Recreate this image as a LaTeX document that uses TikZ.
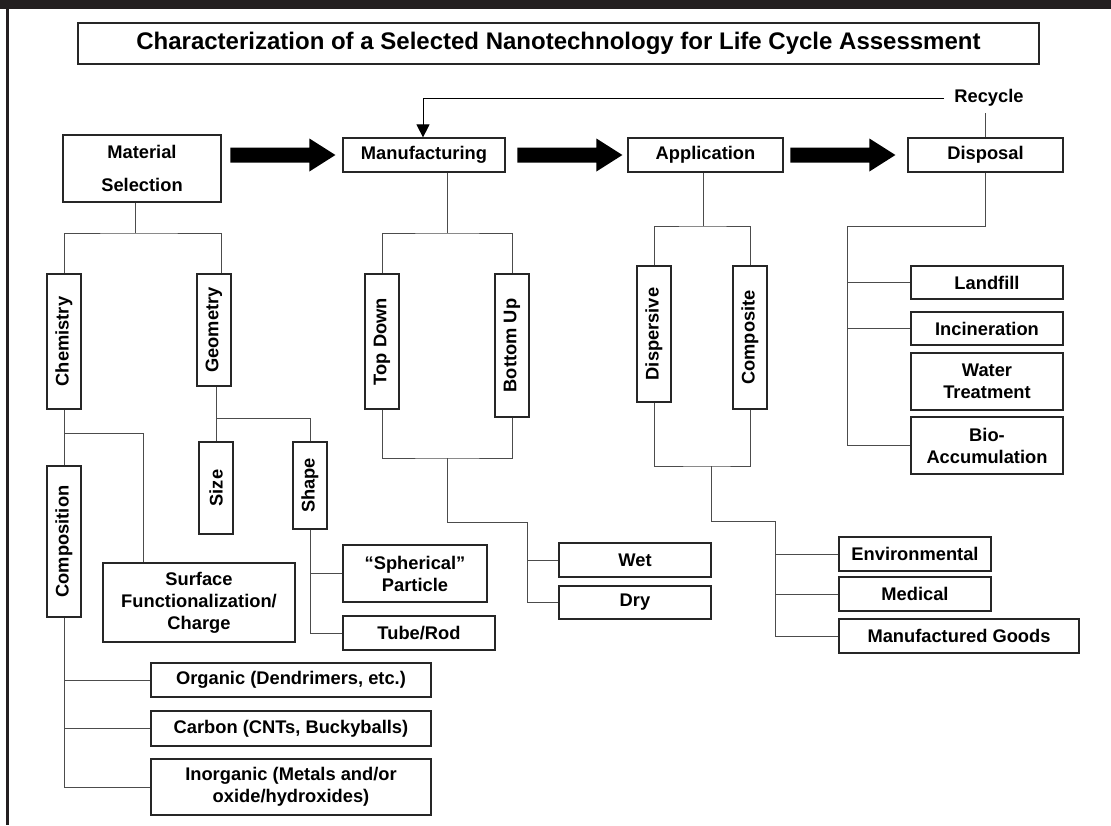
\documentclass[tikz,border=0pt]{standalone}
\usepackage{fontspec}
\setmainfont{Liberation Sans}
\usetikzlibrary{arrows.meta,calc}
\definecolor{frame}{HTML}{231F20}
\begin{document}
\begin{tikzpicture}[x=1pt,y=-1pt,
  box/.style={draw=black!85, line width=1.2pt, fill=white, inner sep=0pt, align=center,
    font=\fontsize{18.3}{22}\selectfont\bfseries},
  sz/.style 2 args={minimum width=#1pt, minimum height=#2pt},
  conn/.style={draw=black!70, line width=1pt},
  pics/fatarrow/.style={code={\fill[black] (0,0) -- (-26,-16.5) -- (-26,-7.5) -- (-105,-7.5) -- (-105,7.5) -- (-26,7.5) -- (-26,16.5) -- cycle;}}
]
\useasboundingbox (0,0) rectangle (1111,825);
\fill[white] (0,0) rectangle (1111,825);
% frame
\fill[frame] (0,0) rectangle (1111,8.5);
\fill[frame] (6,0) rectangle (9,825);

% title
\node[box, sz={961}{41}, font=\fontsize{24}{28}\selectfont\bfseries] (title) at (558.5,43.5)
  {Characterization of a Selected Nanotechnology for Life Cycle Assessment};

% main stages
\node[box, sz={158}{67}] (mat) at (142,168.5) {Material\\[11pt]Selection};
\node[box, sz={162}{34}] (manu) at (424,155) {Manufacturing};
\node[box, sz={155}{34}] (appl) at (705.5,155) {Application};
\node[box, sz={155}{34}] (disp) at (985.5,155) {Disposal};
\node[inner sep=0pt, font=\fontsize{18.3}{22}\selectfont\bfseries] (rec) at (989,98) {Recycle};

% big arrows
\pic at ([xshift=-7pt]manu.west) {fatarrow};
\pic at ([xshift=-5pt]appl.west) {fatarrow};
\pic at ([xshift=-12pt]disp.west) {fatarrow};

% recycle loop
\draw[black, line width=1pt, -{Triangle[length=13pt,width=13pt]}] ([xshift=-10pt]rec.west) -| ([xshift=-1pt]manu.north);
\draw[conn] (disp.north) -- ++(0,-24);

% material selection subtree
\node[box, sz={34}{135}] (chem) at (64,341.5) {\rotatebox{90}{Chemistry}};
\node[box, sz={34}{112}] (geom) at (214,330) {\rotatebox{90}{Geometry}};
\node[box, sz={34}{92}] (size) at (216,488) {\rotatebox{90}{Size}};
\node[box, sz={34}{87}] (shape) at (310,485.5) {\rotatebox{90}{Shape}};
\node[box, sz={34}{151}] (comp) at (64,541.5) {\rotatebox{90}{Composition}};
\node[box, sz={192}{79}] (surf) at (199,602.5) {Surface\\Functionalization/\\Charge};
\node[box, sz={144}{57}] (sph) at (415,573.5) {“Spherical”\\Particle};
\node[box, sz={152}{34}] (tube) at (419,633) {Tube/Rod};
\node[box, sz={280}{34}] (org) at (291,680) {Organic (Dendrimers, etc.)};
\node[box, sz={280}{35}] (carb) at (291,728.5) {Carbon (CNTs, Buckyballs)};
\node[box, sz={280}{56}] (inorg) at (291,787) {Inorganic (Metals and/or\\oxide/hydroxides)};

\coordinate (mj) at (135,233);
\coordinate (gj) at (216,418);
\coordinate (cj) at (64,433);
\draw[conn] (mj |- mat.south) -- (mj);
\draw[conn] (chem.north) |- (mj) -| ([xshift=7pt]geom.north);
\draw[conn] (size.north |- geom.south) -- (size.north);
\draw[conn] (gj) -| (shape.north);
\draw[conn] (chem.south) -- (comp.north);
\draw[conn] (cj) -| ([xshift=-56pt]surf.north);
\draw[conn] (shape.south) |- (tube.west);
\draw[conn] (shape.south |- sph.west) -- (sph.west);
\draw[conn] (comp.south) |- (inorg.west);
\draw[conn] (comp.south |- org.west) -- (org.west);
\draw[conn] (comp.south |- carb.west) -- (carb.west);

% manufacturing subtree
\node[box, sz={34}{135}] (topd) at (382,341.5) {\rotatebox{90}{Top Down}};
\node[box, sz={34}{143}] (botu) at (512,345.5) {\rotatebox{90}{Bottom Up}};
\node[box, sz={152}{34}] (wet) at (635,560) {Wet};
\node[box, sz={152}{33}] (dry) at (635,602.5) {Dry};

\coordinate (mfj) at (447,233);
\coordinate (tdb) at (447,458);
\coordinate (wdj) at (527,522);
\draw[conn] (mfj |- manu.south) -- (mfj);
\draw[conn] (topd.north) |- (mfj) -| (botu.north);
\draw[conn] (topd.south) |- (tdb) -| (botu.south);
\draw[conn] (tdb) |- (wdj) |- (dry.west);
\draw[conn] (wdj |- wet.west) -- (wet.west);

% application subtree
\node[box, sz={34}{136}] (dispv) at (654,334) {\rotatebox{90}{Dispersive}};
\node[box, sz={34}{143}] (compo) at (750,337.5) {\rotatebox{90}{Composite}};
\node[box, sz={152}{34}] (env) at (915,554) {Environmental};
\node[box, sz={152}{34}] (med) at (915,594) {Medical};
\node[box, sz={240}{34}] (mfg) at (959,636) {Manufactured Goods};

\coordinate (aj) at (703,226);
\coordinate (ab) at (711,466);
\coordinate (ej) at (775,521);
\draw[conn] (aj |- appl.south) -- (aj);
\draw[conn] (dispv.north) |- (aj) -| (compo.north);
\draw[conn] (dispv.south) |- (ab) -| (compo.south);
\draw[conn] (ab) |- (ej) |- (mfg.west);
\draw[conn] (ej |- env.west) -- (env.west);
\draw[conn] (ej |- med.west) -- (med.west);

% disposal subtree
\node[box, sz={152}{33}] (land) at (987,282.5) {Landfill};
\node[box, sz={152}{33}] (incin) at (987,328.5) {Incineration};
\node[box, sz={152}{57}] (water) at (987,381.5) {Water\\Treatment};
\node[box, sz={152}{57}] (bio) at (987,445.5) {Bio-\\Accumulation};

\coordinate (dj) at (847,226);
\draw[conn] (disp.south) |- (dj) |- (bio.west);
\draw[conn] (dj |- land.west) -- (land.west);
\draw[conn] (dj |- incin.west) -- (incin.west);
\end{tikzpicture}
\end{document}
